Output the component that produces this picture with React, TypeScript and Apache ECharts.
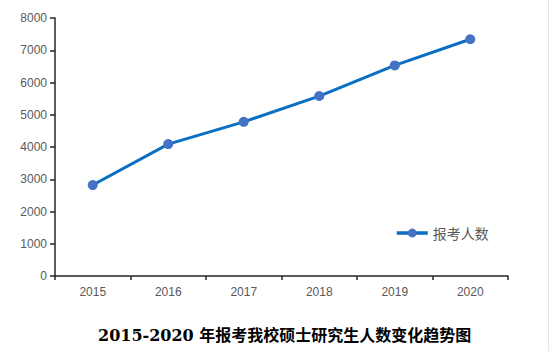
import React, { useEffect, useRef } from "react";
import * as echarts from "echarts";

const years = ["2015", "2016", "2017", "2018", "2019", "2020"];
const applicants = [2820, 4090, 4780, 5580, 6530, 7340];
const seriesName = "报考人数";
const titleText = "2015-2020 年报考我校硕士研究生人数变化趋势图";

export default function App() {
  const ref = useRef<HTMLDivElement>(null);
  useEffect(() => {
    if (!ref.current) return;
    const chart = echarts.init(ref.current, null, { renderer: "svg" });
    chart.setOption({
      animation: false,
      backgroundColor: "#ffffff",
      title: {
        text: titleText,
        left: 93,
        top: 322,
        textStyle: {
          fontFamily: "'DejaVu Serif', 'Noto Sans CJK SC', serif",
          fontWeight: "bold",
          fontSize: 16,
          color: "#000000",
        },
      },
      legend: {
        left: 390,
        top: 221,
        itemWidth: 31,
        itemHeight: 11,
        itemGap: 5,
        data: [seriesName],
        lineStyle: { width: 3.5, color: "#0a6fc2" },
        textStyle: {
          color: "#595959",
          fontSize: 14,
          fontFamily: "'Noto Sans CJK SC', sans-serif",
        },
      },
      grid: { left: 55, top: 18, right: 42, bottom: 75, containLabel: false },
      xAxis: {
        type: "category",
        data: years,
        boundaryGap: true,
        axisLine: { lineStyle: { color: "#262626", width: 1.5 } },
        axisTick: { show: true, length: 4, lineStyle: { color: "#262626", width: 1.5 } },
        axisLabel: { color: "#595959", fontSize: 12, margin: 10, fontFamily: "'Liberation Sans', sans-serif" },
      },
      yAxis: {
        type: "value",
        min: 0,
        max: 8000,
        interval: 1000,
        splitLine: { show: false },
        axisLine: { show: true, lineStyle: { color: "#262626", width: 1.5 } },
        axisTick: { show: true, length: 5, lineStyle: { color: "#262626", width: 1.5 } },
        axisLabel: {
          color: "#595959",
          fontSize: 12,
          margin: 8,
          fontFamily: "'Liberation Sans', sans-serif",
          formatter: (v: number) => String(v),
        },
      },
      series: [
        {
          name: seriesName,
          type: "line",
          data: applicants,
          symbol: "circle",
          symbolSize: 10,
          lineStyle: { color: "#0a6fc2", width: 3 },
          itemStyle: { color: "#4472c4" },
        },
      ],
      graphic: [
        {
          type: "line",
          shape: { x1: 548.5, y1: 0, x2: 548.5, y2: 351 },
          style: { stroke: "#e6e6e6", lineWidth: 1 },
        },
      ],
    });
    return () => chart.dispose();
  }, []);
  return (
    <div
      ref={ref}
      style={{ position: "fixed", left: 0, top: 0, width: 550, height: 351 }}
    />
  );
}
